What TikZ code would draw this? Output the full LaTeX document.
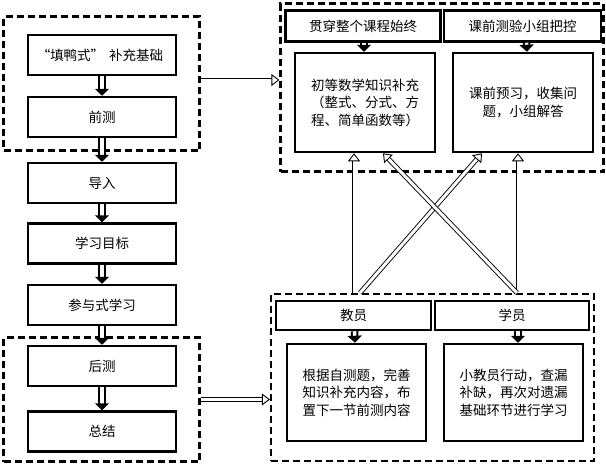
\documentclass[tikz,border=0pt]{standalone}
\usepackage{fontspec}
\setmainfont{Noto Sans CJK SC}
\usetikzlibrary{arrows.meta,calc}
\begin{document}
\begin{tikzpicture}[x=1pt,y=-1pt,
  box/.style={draw, line width=2.5pt, inner sep=0pt, align=center,
    font=\fontsize{13.5}{17.5}\selectfont},
  grp/.style={draw, line width=2.2pt, dash pattern=on 7pt off 4pt, inner sep=0pt},
  tarr/.style={draw, double, double distance=3.5pt, line width=2pt,
    -{Triangle[width=14pt,length=7pt]}},
  harr/.style={draw, double, double distance=3pt, line width=0.9pt,
    -{Triangle[open,width=12pt,length=8pt]}}]
\useasboundingbox (0,0) rectangle (606,464);
% groups
\node[grp, minimum width=196pt, minimum height=134pt] (gL1) at (101.5,83.5) {};
\node[grp, minimum width=196pt, minimum height=124pt] (gL2) at (101.5,399.5) {};
\node[grp, minimum width=323pt, minimum height=168pt] (gT) at (442,87.5) {};
\node[grp, minimum width=323pt, minimum height=167pt] (gB) at (432.5,377.5) {};
% left column
\node[box, minimum width=148pt, minimum height=40pt] (n1) at (102,55) {\hspace*{-4pt}“填鸭式”\hspace{5pt}补充基础};
\node[box, minimum width=148pt, minimum height=40pt] (n2) at (102,117) {前测};
\node[box, minimum width=148pt, minimum height=40pt] (n3) at (102,183) {导入};
\node[box, minimum width=148pt, minimum height=40pt] (n4) at (102,243.5) {学习目标};
\node[box, minimum width=148pt, minimum height=40pt] (n5) at (102,305) {参与式学习};
\node[box, minimum width=148pt, minimum height=40pt] (n6) at (102,366) {后测};
\node[box, minimum width=148pt, minimum height=40pt] (n7) at (102,431.5) {总结};
% top right
\node[box, minimum width=155pt, minimum height=31pt] (h1) at (363,26) {贯穿整个课程始终};
\node[box, minimum width=157pt, minimum height=31pt] (h2) at (522.5,26) {课前测验小组把控};
\node[box, minimum width=140pt, minimum height=99pt] (c1) at (365,102.5) {初等数学知识补充\\（整式、分式、方\\程、简单函数等）};
\node[box, minimum width=140pt, minimum height=99pt] (c2) at (523,102.5) {课前预习，收集问\\题，小组解答};
% bottom right
\node[box, minimum width=155pt, minimum height=29pt] (k1) at (353.5,315.5) {教员};
\node[box, minimum width=154pt, minimum height=29pt] (k2) at (512,315.5) {学员};
\node[box, minimum width=139pt, minimum height=97pt] (d1) at (356.5,392.5) {根据自测题，完善\\知识补充内容，布\\置下一节前测内容};
\node[box, minimum width=139pt, minimum height=97pt] (d2) at (513.5,392.5) {小教员行动，查漏\\补缺，再次对遗漏\\基础环节进行学习};
% left column arrows
\draw[tarr] (n1.south) -- (n2.north);
\draw[tarr] (n2.south) -- (n3.north);
\draw[tarr] (n3.south) -- (n4.north);
\draw[tarr] (n4.south) -- (n5.north);
\draw[tarr] (n5.south) -- (n6.north);
\draw[tarr] (n6.south) -- (n7.north);
% header arrows
\draw[tarr] ([xshift=1pt]h1.south) -- ([xshift=-1pt]c1.north);
\draw[tarr] ([xshift=4pt]h2.south) -- ([xshift=4pt]c2.north);
\draw[tarr] ([xshift=1pt]k1.south) -- ([xshift=-1.5pt]d1.north);
\draw[tarr] ([xshift=6pt]k2.south) -- ([xshift=4.5pt]d2.north);
% horizontal arrows
\draw[harr] ([yshift=3.5pt]gL1.east) -- ([yshift=3.5pt]gL1.east -| gT.west);
\draw[harr] (gL2.east) -- (gL2.east -| gB.west);
% crossing arrows
\draw[harr] ([xshift=-11pt]c1.south |- gB.north) -- ([xshift=-11pt]c1.south);
\draw[harr] ([xshift=-5pt]c2.south |- gB.north) -- ([xshift=-5pt]c2.south);
\draw[harr] ([xshift=-5pt]c1.south |- gB.north) -- ([xshift=-41pt]c2.south);
\draw[harr] ([xshift=-6pt]c2.south |- gB.north) -- ([xshift=18pt]c1.south);
\end{tikzpicture}
\end{document}
